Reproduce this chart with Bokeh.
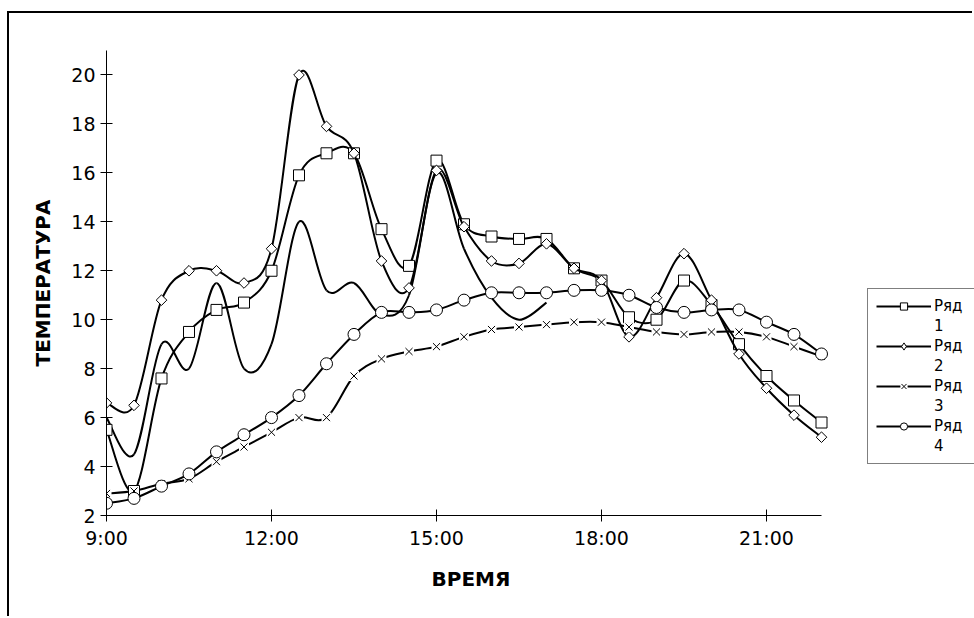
import numpy as np
from bokeh.plotting import figure
from bokeh.models import Legend, LegendItem, FixedTicker, Range1d, ColumnDataSource, Title
from bokeh.embed import file_html
from bokeh.resources import INLINE

# ---------------- data ----------------
times = ["9:00", "9:30", "10:00", "10:30", "11:00", "11:30", "12:00", "12:30",
         "13:00", "13:30", "14:00", "14:30", "15:00", "15:30", "16:00", "16:30",
         "17:00", "17:30", "18:00", "18:30", "19:00", "19:30", "20:00", "20:30",
         "21:00", "21:30", "22:00"]

series1 = [5.5, 3.0, 7.6, 9.5, 10.4, 10.7, 12.0, 15.9, 16.8, 16.8, 13.7, 12.2, 16.5, 13.9,
           13.4, 13.3, 13.3, 12.1, 11.6, 10.1, 10.0, 11.6, 10.6, 9.0, 7.7, 6.7, 5.8]
series2 = [6.6, 6.5, 10.8, 12.0, 12.0, 11.5, 12.9, 20.0, 17.9, 16.8, 12.4, 11.3, 16.1, 13.8,
           12.4, 12.3, 13.1, 12.1, 11.6, 9.3, 10.9, 12.7, 10.8, 8.6, 7.2, 6.1, 5.2]
series3 = [2.9, 3.0, 3.3, 3.5, 4.2, 4.8, 5.4, 6.0, 6.0, 7.7, 8.4, 8.7, 8.9, 9.3,
           9.6, 9.7, 9.8, 9.9, 9.9, 9.7, 9.5, 9.4, 9.5, 9.5, 9.3, 8.9, 8.5]
series4 = [2.5, 2.7, 3.2, 3.7, 4.6, 5.3, 6.0, 6.9, 8.2, 9.4, 10.3, 10.3, 10.4, 10.8,
           11.1, 11.1, 11.1, 11.2, 11.2, 11.0, 10.5, 10.3, 10.4, 10.4, 9.9, 9.4, 8.6]
# extra line without markers (9:00 .. 17:00)
series5 = [6.0, 4.5, 9.0, 8.0, 11.5, 8.0, 9.0, 14.0, 11.2, 11.5, 10.2, 11.0, 16.0, 12.9,
           10.9, 10.0, 10.7]

legend_words = ["Ряд", "Ряд", "Ряд", "Ряд"]
legend_numbers = ["1", "2", "3", "4"]
x_tick_values = [9, 12, 15, 18, 21]
x_tick_labels = ["9:00", "12:00", "15:00", "18:00", "21:00"]
y_tick_values = [2, 4, 6, 8, 10, 12, 14, 16, 18, 20]
x_title = "ВРЕМЯ"
y_title = "ТЕМПЕРАТУРА"


def to_hours(t):
    h, m = t.split(":")
    return int(h) + int(m) / 60.0


hours = np.array([to_hours(t) for t in times])
x_start, x_stop = hours[0], hours[-1]


def smooth_source(xs, ys):
    xs = np.asarray(xs, float)
    ys = np.asarray(ys, float)
    n = len(xs)
    xp = np.concatenate([[xs[0]], xs, [xs[-1]]])
    yp = np.concatenate([[ys[0]], ys, [ys[-1]]])
    cx0 = xp[1:n] + (xp[2:n + 1] - xp[0:n - 1]) / 6.0
    cy0 = yp[1:n] + (yp[2:n + 1] - yp[0:n - 1]) / 6.0
    cx1 = xp[2:n + 1] - (xp[3:n + 2] - xp[1:n]) / 6.0
    cy1 = yp[2:n + 1] - (yp[3:n + 2] - yp[1:n]) / 6.0
    return ColumnDataSource(dict(x0=xs[:-1], y0=ys[:-1], x1=xs[1:], y1=ys[1:],
                                 cx0=cx0, cy0=cy0, cx1=cx1, cy1=cy1))


FONT = "DejaVu Sans"
PX_PER_HOUR = 55.0
EXTRA_RIGHT_PX = 153.0   # area right of the axis end that holds the legend

p = figure(width=965, height=605,
           x_range=Range1d(x_start, x_stop + EXTRA_RIGHT_PX / PX_PER_HOUR),
           y_range=Range1d(2, 21),
           output_backend="svg", toolbar_location=None,
           min_border_left=97, min_border_top=37, min_border_bottom=103, min_border_right=0,
           margin=(11, 0, 0, 7),
           styles={"border-left": "2px solid black", "border-top": "2px solid black"})
p.xgrid.visible = False
p.ygrid.visible = False
p.outline_line_color = None
p.background_fill_color = "white"
p.border_fill_color = "white"

for ax in (p.xaxis[0], p.yaxis[0]):
    ax.axis_line_color = "black"
    ax.axis_line_width = 1
    ax.major_tick_line_color = "black"
    ax.major_tick_in = 6
    ax.major_tick_out = 6
    ax.minor_tick_line_color = None
    ax.major_label_text_font = FONT
    ax.major_label_text_font_size = "19px"
    ax.major_label_text_color = "black"
    ax.axis_label_text_font = FONT
    ax.axis_label_text_font_size = "20px"
    ax.axis_label_text_font_style = "bold"
    ax.axis_label_text_color = "black"

p.xaxis.ticker = FixedTicker(ticks=x_tick_values)
p.xaxis.major_label_overrides = {v: s for v, s in zip(x_tick_values, x_tick_labels)}
p.xaxis.bounds = (x_start, x_stop)
p.xaxis.major_label_standoff = 5
p.yaxis.ticker = FixedTicker(ticks=y_tick_values)
p.yaxis.axis_label = y_title
p.yaxis.axis_label_standoff = 13
p.yaxis.major_label_standoff = 5

p.add_layout(Title(text=x_title, align="left", offset=325, standoff=26,
                   text_font=FONT, text_font_size="20px", text_font_style="bold",
                   text_color="black"), "below")

LW = 2

# extra smooth line without markers
p.bezier(x0="x0", y0="y0", x1="x1", y1="y1", cx0="cx0", cy0="cy0", cx1="cx1", cy1="cy1",
         source=smooth_source(hours[:len(series5)], series5), line_color="black", line_width=LW)

items = []
series_all = [series1, series2, series3, series4]
for k, ys in enumerate(series_all):
    p.bezier(x0="x0", y0="y0", x1="x1", y1="y1", cx0="cx0", cy0="cy0", cx1="cx1", cy1="cy1",
             source=smooth_source(hours, ys), line_color="black", line_width=LW)
    leg_line = p.line(hours, ys, line_color="black", line_width=LW, visible=False)
    rends = [leg_line]
    if k == 0:
        rends.append(p.scatter(hours, ys, marker="square", size=11, fill_color="white",
                               line_color="black", line_width=1))
    elif k == 1:
        p.scatter(hours, ys, marker="square", size=7.5, angle=np.pi / 4,
                  fill_color="white", line_color="black", line_width=1)
        rends.append(p.scatter(hours, ys, marker="diamond", size=12, fill_color="white",
                               line_color="black", line_width=1, visible=False))
    elif k == 2:
        rends.append(p.scatter(hours, ys, marker="square", size=10, fill_color="white",
                               line_color=None))
        rends.append(p.scatter(hours, ys, marker="x", size=10, line_color="black",
                               line_width=1))
    else:
        rends.append(p.scatter(hours, ys, marker="circle", size=12, fill_color="white",
                               line_color="black", line_width=1))
    items.append(LegendItem(label=legend_words[k], renderers=rends))
    items.append(LegendItem(label=legend_numbers[k], renderers=[]))

legend = Legend(items=items, location=(761, 51), orientation="vertical",
                border_line_color="black", border_line_width=1,
                background_fill_color="white", background_fill_alpha=1,
                glyph_width=55, glyph_height=18, label_height=18, label_width=70,
                label_standoff=3, spacing=2, padding=8, margin=0,
                label_text_font=FONT, label_text_font_size="15px",
                label_text_color="black")
p.add_layout(legend, "center")

open("out.html", "w").write(file_html(p, INLINE))
